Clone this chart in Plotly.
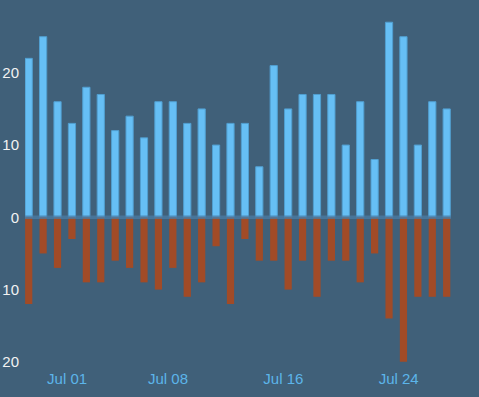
import plotly.graph_objects as go
import pandas as pd

dates = pd.date_range("2019-06-28", "2019-07-27", freq="D")
up_values = [22, 25, 16, 13, 18, 17, 12, 14, 11, 16, 16, 13, 15, 10, 13,
             13, 7, 21, 15, 17, 17, 17, 10, 16, 8, 27, 25, 10, 16, 15]
down_values = [12, 5, 7, 3, 9, 9, 6, 7, 9, 10, 7, 11, 9, 4, 12,
               3, 6, 6, 10, 6, 11, 6, 6, 9, 5, 14, 20, 11, 11, 11]
y_tickvals = [-20, -10, 0, 10, 20]
y_ticktext = ["20", "10", "0", "10", "20"]
x_tickvals = ["2019-07-01", "2019-07-08", "2019-07-16", "2019-07-24"]
x_ticktext = ["Jul 01", "Jul 08", "Jul 16", "Jul 24"]

HOUR = 3600 * 1000
bar_width = 12 * HOUR
bar_offset = 2 * HOUR

fig = go.Figure()
fig.add_trace(go.Bar(
    x=dates, y=up_values, width=bar_width, offset=bar_offset,
    marker=dict(color="#66bff5", line=dict(color="#519fd0", width=1)),
    showlegend=False,
))
fig.add_trace(go.Bar(
    x=dates, y=[-v for v in down_values], width=bar_width, offset=bar_offset,
    marker=dict(color="#a14b27", line=dict(width=0)),
    showlegend=False,
))

fig.add_shape(type="line", xref="paper", x0=0, x1=1, yref="y", y0=0, y1=0,
              line=dict(color="rgba(74,124,165,0.75)", width=3.5), layer="above")

fig.update_layout(
    width=479, height=397,
    margin=dict(l=25, r=28, t=15, b=33),
    paper_bgcolor="#406079",
    plot_bgcolor="#406079",
    barmode="relative",
    font=dict(family="Liberation Sans, Arial, sans-serif", size=15),
    xaxis=dict(
        type="date", automargin=False,
        range=["2019-06-28 01:50", "2019-07-27 15:10"],
        tickvals=x_tickvals, ticktext=x_ticktext,
        showgrid=False, zeroline=False, showline=False,
        ticks="outside", ticklen=1, tickcolor="rgba(0,0,0,0)",
        tickfont=dict(color="#5cb5ea", size=15),
    ),
    yaxis=dict(
        automargin=False,
        range=[-20.3, 28],
        tickvals=y_tickvals, ticktext=y_ticktext,
        showgrid=False, zeroline=False, showline=False,
        ticks="outside", ticklen=2, tickcolor="rgba(0,0,0,0)",
        tickfont=dict(color="#f2f2f2", size=15),
    ),
)

fig.write_html(
    "out.html",
    config={"displayModeBar": False},
    post_script="document.body.style.margin='0';document.body.style.background='#406079';",
)
